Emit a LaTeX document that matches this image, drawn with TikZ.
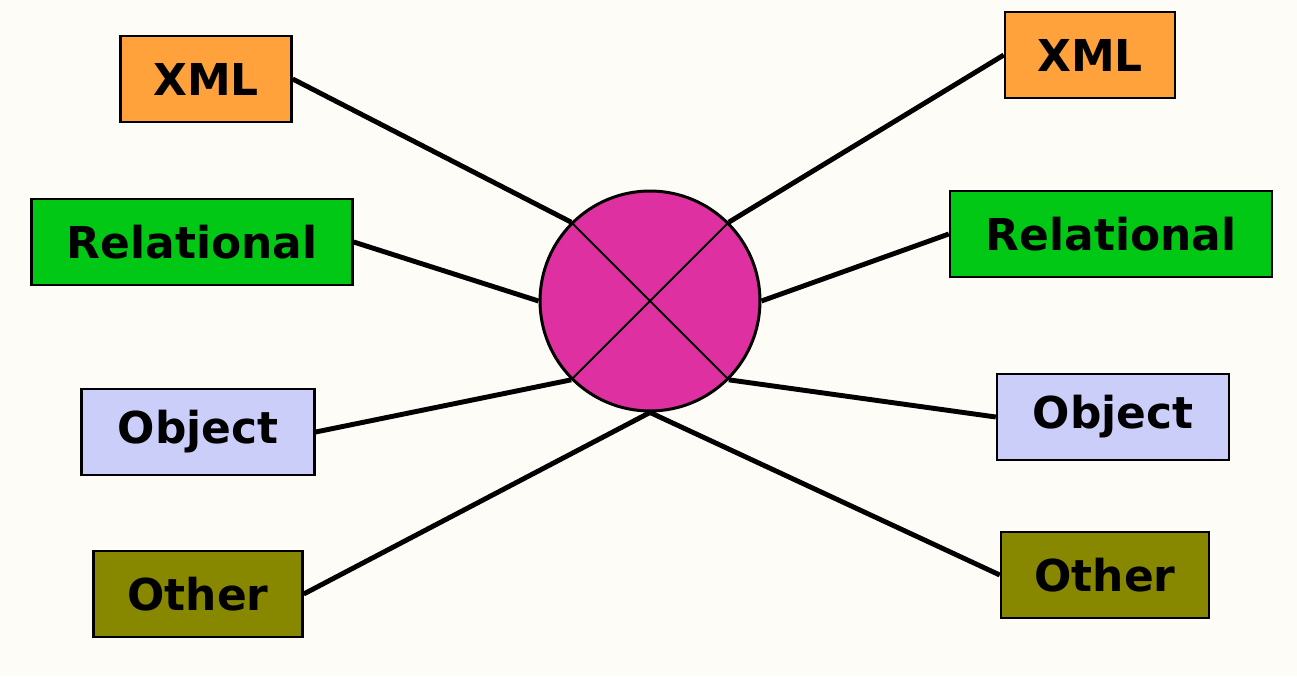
\documentclass[tikz,border=0pt]{standalone}
\usepackage{fontspec}
\setsansfont{DejaVu Sans}
\definecolor{paper}{RGB}{253,252,246}
\definecolor{xmlfill}{RGB}{255,162,60}
\definecolor{relfill}{RGB}{0,200,20}
\definecolor{objfill}{RGB}{204,206,250}
\definecolor{othfill}{RGB}{136,136,0}
\definecolor{hubfill}{RGB}{222,48,160}
\usetikzlibrary{positioning}
\tikzset{
  kind/.style={draw=black, line width=1.4pt, inner sep=0pt, minimum height=1.71cm,
               font=\sffamily\bfseries\fontsize{25}{30}\selectfont, text=black},
  link/.style={black, line width=2.8pt},
  cross/.style={black, line width=1.1pt},
}
\begin{document}
\begin{tikzpicture}[x=0.02cm,y=-0.02cm]
  \fill[paper] (0,0) rectangle (1297,676);
  \useasboundingbox (0,0) rectangle (1297,676);
  % central store
  \node[circle, draw=black, line width=1.7pt, fill=hubfill, minimum size=4.4cm, inner sep=0pt] (hub) at (650,301) {};
  \draw[cross] (hub.135) -- (hub.-45);
  \draw[cross] (hub.45) -- (hub.-135);
  % left side
  \node[kind, fill=xmlfill, minimum width=3.42cm] (xmlL) at (206,79) {XML};
  \node[kind, fill=relfill, minimum width=6.42cm] (relL) at (192,242) {Relational};
  \node[kind, fill=objfill, minimum width=4.66cm] (objL) at (198,432) {Object};
  \node[kind, fill=othfill, minimum width=4.18cm] (othL) at (198,594) {Other};
  % right side
  \node[kind, fill=xmlfill, minimum width=3.40cm] (xmlR) at (1090,55) {XML};
  \node[kind, fill=relfill, minimum width=6.44cm] (relR) at (1111,234) {Relational};
  \node[kind, fill=objfill, minimum width=4.64cm] (objR) at (1113,417) {Object};
  \node[kind, fill=othfill, minimum width=4.16cm] (othR) at (1105,575) {Other};
  % connectors
  \draw[link] (xmlL.east) -- (hub.135);
  \draw[link] (relL.east) -- (hub.west);
  \draw[link] (objL.east) -- (hub.-135);
  \draw[link] (othL.east) -- (hub.south);
  \draw[link] (xmlR.west) -- (hub.45);
  \draw[link] (relR.west) -- (hub.east);
  \draw[link] (objR.west) -- (hub.-45);
  \draw[link] (othR.west) -- (hub.south);
\end{tikzpicture}
\end{document}
